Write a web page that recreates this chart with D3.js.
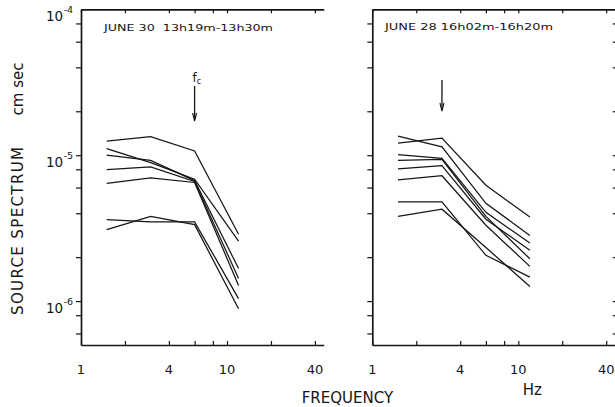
<!DOCTYPE html>
<html><head><meta charset="utf-8">
<script src="https://cdn.jsdelivr.net/npm/d3@7"></script>
<style>
body{margin:0;background:#fff}
svg{display:block}
text{font-family:"DejaVu Sans",sans-serif;fill:#151515}
</style>
</head><body><svg id="c" width="615" height="407"></svg>
<script>
// ---- data ----
const frequencies = [1.5, 3, 6, 12];           // Hz
const june30Spectra = [
  [1.25e-5, 1.34e-5, 1.07e-5, 2.87e-6],
  [1.11e-5, 8.9e-6, 6.85e-6, 2.58e-6],
  [1.0e-5, 9.2e-6, 6.7e-6, 1.67e-6],
  [7.97e-6, 8.3e-6, 6.6e-6, 1.43e-6],
  [6.4e-6, 7.0e-6, 6.5e-6, 1.28e-6],
  [3.62e-6, 3.49e-6, 3.49e-6, 1.04e-6],
  [3.09e-6, 3.81e-6, 3.34e-6, 8.87e-7]
];
const june28Spectra = [
  [1.35e-5, 1.14e-5, 4.68e-6, 2.82e-6],
  [1.21e-5, 1.31e-5, 6.22e-6, 3.77e-6],
  [1.01e-5, 9.5e-6, 4.06e-6, 2.50e-6],
  [9.2e-6, 9.35e-6, 3.81e-6, 1.95e-6],
  [8.05e-6, 8.47e-6, 3.64e-6, 2.23e-6],
  [6.77e-6, 7.23e-6, 3.31e-6, 1.73e-6],
  [4.78e-6, 4.78e-6, 2.06e-6, 1.46e-6],
  [3.81e-6, 4.26e-6, 2.33e-6, 1.26e-6]
];
const panelTitles = ["JUNE 30  13h19m-13h30m", "JUNE 28 16h02m-16h20m"];
const cornerFrequencies = [6, 3];
const xTickValues = [1, 2, 4, 6, 8, 10, 20, 40];
const xTickLabels = [1, 4, 10, 40];
const yTickValues = [6e-7, 8e-7, 1e-6, 2e-6, 4e-6, 6e-6, 8e-6, 1e-5, 2e-5, 4e-5, 6e-5, 8e-5];
const yLabelExponents = [-4, -5, -6];
const yDomain = [5e-7, 1e-4];

// ---- layout ----
const svg = d3.select("#c");
const INK = "#151515";
const DECADE = 146;
const yTop = 9.3, yBot = 345;
const y = d3.scaleLog().domain(yDomain).range([yBot, yTop]);
const panelDefs = [
  {x0: 81, xMax: 46, data: june30Spectra, title: panelTitles[0], fc: cornerFrequencies[0], showFc: true, yLabels: true, rightAxis: false, titleX: 104, titleW: 169, titleY: 30.7, arrowTop: 86, arrowBot: 121},
  {x0: 372.3, xMax: 48, data: june28Spectra, title: panelTitles[1], fc: cornerFrequencies[1], showFc: false, yLabels: false, rightAxis: true, titleX: 385, titleW: 168, titleY: 29.5, arrowTop: 80, arrowBot: 111}
];

function styleAxis(g){
  g.select(".domain").attr("stroke", INK).attr("stroke-width", 1.7);
  g.selectAll(".tick line").attr("stroke", INK).attr("stroke-width", 1.2);
  g.selectAll(".tick text").remove();
}

panelDefs.forEach(p => {
  const x = d3.scaleLog().domain([1, p.xMax]).range([p.x0, p.x0 + DECADE * Math.log10(p.xMax)]);
  const g = svg.append("g");

  g.append("g").attr("transform", `translate(0,${yBot})`)
    .call(d3.axisBottom(x).tickValues(xTickValues).tickSize(-4).tickSizeOuter(0).tickFormat(""))
    .call(styleAxis);
  g.append("g").attr("transform", `translate(0,${yTop})`)
    .call(d3.axisTop(x).tickValues(xTickValues).tickSize(-4).tickSizeOuter(0).tickFormat(""))
    .call(styleAxis);
  g.append("g").attr("transform", `translate(${p.x0},0)`)
    .call(d3.axisLeft(y).tickValues(yTickValues).tickSize(5).tickSizeOuter(0).tickFormat(""))
    .call(styleAxis);
  if (p.rightAxis) {
    g.append("g").attr("transform", `translate(${x(p.xMax)},0)`)
      .call(d3.axisRight(y).tickValues(yTickValues).tickSize(-5).tickSizeOuter(0).tickFormat(""))
      .call(styleAxis);
  }

  // x tick labels
  g.selectAll(".xl").data(xTickLabels).join("text")
    .attr("x", d => x(d)).attr("y", 373.5)
    .attr("text-anchor", "middle").attr("font-size", 13)
    .text(d => d);

  // y exponent labels
  if (p.yLabels) {
    yLabelExponents.forEach(e => {
      const t = g.append("text").attr("x", 46).attr("y", y(Math.pow(10, e)) + 11.5).attr("font-size", 13.5);
      t.append("tspan").text("10");
      t.append("tspan").attr("font-size", 9.5).attr("dx", 0.5).attr("dy", -8).text(String(e));
    });
  }

  // title
  g.append("text").attr("x", p.titleX).attr("y", p.titleY)
    .attr("font-size", 9.5).attr("textLength", p.titleW).attr("lengthAdjust", "spacingAndGlyphs")
    .style("white-space", "pre")
    .text(p.title);

  // spectra
  const line = d3.line().x((d, i) => x(frequencies[i])).y(d => y(d));
  g.selectAll(".sp").data(p.data).join("path")
    .attr("d", line).attr("fill", "none").attr("stroke", INK)
    .attr("stroke-width", 1.25).attr("stroke-linejoin", "miter");

  // corner frequency arrow
  const ax = x(p.fc);
  g.append("line").attr("x1", ax).attr("x2", ax).attr("y1", p.arrowTop).attr("y2", p.arrowBot - 2)
    .attr("stroke", INK).attr("stroke-width", 1.3);
  g.append("path")
    .attr("d", `M${ax - 2},${p.arrowBot - 8} L${ax},${p.arrowBot} L${ax + 2},${p.arrowBot - 8}`)
    .attr("fill", "none").attr("stroke", INK).attr("stroke-width", 1.1);
  if (p.showFc) {
    const t = g.append("text").attr("x", ax - 2).attr("y", 81.5).attr("font-size", 12);
    t.append("tspan").text("f");
    t.append("tspan").attr("font-size", 8).attr("dy", 2).text("c");
  }
});

// axis titles
svg.append("text").attr("transform", "translate(17.5,231) rotate(-90)")
  .attr("text-anchor", "middle").attr("dominant-baseline", "central")
  .attr("font-size", 15).attr("textLength", 168).attr("lengthAdjust", "spacing")
  .text("SOURCE SPECTRUM");
svg.append("text").attr("transform", "translate(17.5,89) rotate(-90)")
  .attr("text-anchor", "middle").attr("dominant-baseline", "central")
  .attr("font-size", 15).text("cm sec");
svg.append("text").attr("x", 301.7).attr("y", 403).attr("font-size", 15)
  .attr("textLength", 91.6).attr("lengthAdjust", "spacingAndGlyphs").text("FREQUENCY");
svg.append("text").attr("x", 522.7).attr("y", 395).attr("font-size", 15).text("Hz");
</script>
</body></html>
